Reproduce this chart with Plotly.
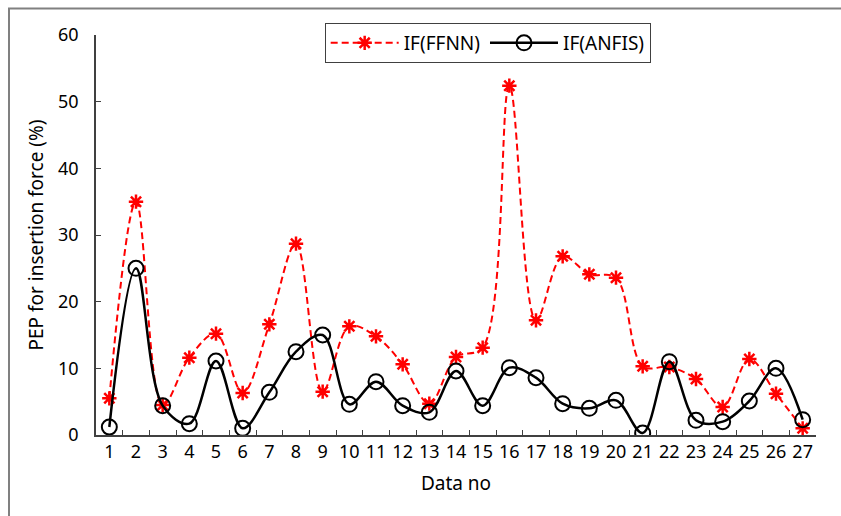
import plotly.graph_objects as go

data_no = [str(i) for i in range(1, 28)]
if_ffnn = [5.5, 35.0, 4.5, 11.6, 15.2, 6.3, 16.6, 28.7, 6.5, 16.3, 14.8, 10.6, 4.7, 11.7,
           13.1, 52.4, 17.2, 26.8, 24.1, 23.6, 10.3, 10.2, 8.4, 4.2, 11.4, 6.2, 1.0]
if_anfis = [1.2, 25.0, 4.4, 1.7, 11.1, 1.0, 6.4, 12.5, 15.0, 4.6, 8.0, 4.4, 3.4, 9.6,
            4.4, 10.1, 8.6, 4.7, 4.0, 5.2, 0.3, 11.0, 2.2, 2.0, 5.1, 10.0, 2.3]
y_ticks = [0, 10, 20, 30, 40, 50, 60]

FONT = "Noto Sans"

fig = go.Figure()
fig.add_trace(go.Scatter(
    x=data_no, y=if_ffnn, name="IF(FFNN)", mode="lines+markers",
    line=dict(color="#ff0000", width=2, dash="7px,4px", shape="spline", smoothing=1),
    marker=dict(symbol="asterisk-open", size=12, color="#ff0000",
                line=dict(color="#ff0000", width=2.5)),
))
fig.add_trace(go.Scatter(
    x=data_no, y=if_anfis, name="IF(ANFIS)", mode="lines+markers",
    line=dict(color="#000000", width=2.5, shape="spline", smoothing=1),
    marker=dict(symbol="circle-open", size=15, color="#000000",
                line=dict(color="#000000", width=2)),
))

fig.update_layout(
    width=841, height=516,
    margin=dict(l=96, r=25, t=35, b=81, autoexpand=False),
    paper_bgcolor="white", plot_bgcolor="white",
    font=dict(family=FONT, size=18, color="#000000"),
    showlegend=True,
    legend=dict(orientation="h", x=0.544, xanchor="center", y=1.03, yanchor="top",
                bordercolor="#404040", borderwidth=1, bgcolor="white",
                font=dict(family=FONT, size=19), itemwidth=68,
                tracegroupgap=0),
    xaxis=dict(
        type="category", range=[-0.5, 26.5], tickson="boundaries",
        ticks="inside", ticklen=5, tickcolor="#404040", tickwidth=1,
        showline=True, linecolor="#404040", linewidth=1.5,
        showgrid=False, zeroline=False, tickangle=0, automargin=False,
        title=dict(text="Data no", font=dict(family=FONT, size=19), standoff=14),
        tickfont=dict(family=FONT, size=18),
    ),
    yaxis=dict(
        range=[0, 60], tickmode="array", tickvals=y_ticks,
        ticks="inside", ticklen=5, tickcolor="#404040", tickwidth=1,
        showline=True, linecolor="#404040", linewidth=1.5,
        showgrid=False, zeroline=False, automargin=False,
        title=dict(text="PEP for insertion force (%)", font=dict(family=FONT, size=19), standoff=9),
        tickfont=dict(family=FONT, size=18), ticklabelstandoff=12,
    ),
)

fig.add_shape(type="rect", xref="paper", yref="paper",
              x0=(9 - 96) / 720, x1=1.2, y0=-0.4, y1=(435 - 8.5) / 400,
              line=dict(color="#808080", width=2), fillcolor="rgba(0,0,0,0)", layer="below")

fig.write_html("out.html", config={"displayModeBar": False},
               post_script="document.body.style.margin='0';")
